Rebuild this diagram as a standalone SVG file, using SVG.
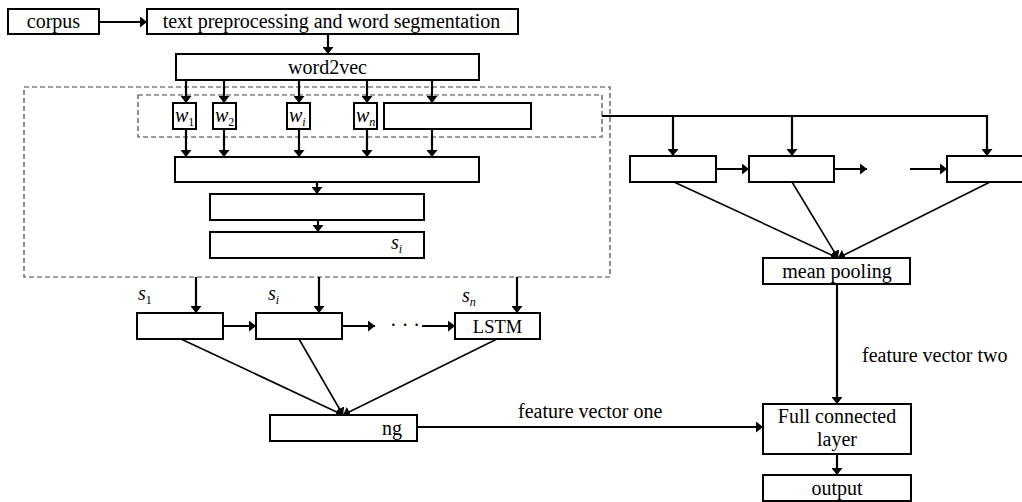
<svg xmlns="http://www.w3.org/2000/svg" width="1022" height="502" viewBox="0 0 1022 502">
<style>
.box{fill:#fff;stroke:#000;stroke-width:2}
.dash{fill:none;stroke:#444;stroke-width:1.2;stroke-dasharray:5 3}
.ln{fill:none;stroke:#000;stroke-width:2.2}
.dg{fill:none;stroke:#000;stroke-width:1.6}
text{font-family:"Liberation Serif","Times New Roman",serif;font-size:20px;fill:#000}
.c{text-anchor:middle}
.it{font-style:italic}
.sub{font-size:12px}
</style>
<defs>
<marker id="ah" viewBox="0 0 7 11" refX="7" refY="5.5" markerWidth="7" markerHeight="11" markerUnits="userSpaceOnUse" orient="auto">
<path d="M0,0 L7,5.5 L0,11 z" fill="#000"/>
</marker>
</defs>
<rect x="0" y="0" width="1022" height="502" fill="#fff"/>
<g id="groups">
<rect class="dash" x="24" y="87" width="586" height="190"/>
<rect class="dash" x="138" y="95" width="464" height="42"/>
</g>
<g id="connectors">
<line class="ln" x1="99" y1="22" x2="147" y2="22" marker-end="url(#ah)"/>
<line class="ln" x1="328" y1="34" x2="328" y2="54" marker-end="url(#ah)"/>
<line class="ln" x1="186" y1="80" x2="186" y2="103" marker-end="url(#ah)"/>
<line class="ln" x1="224" y1="80" x2="224" y2="103" marker-end="url(#ah)"/>
<line class="ln" x1="299" y1="80" x2="299" y2="103" marker-end="url(#ah)"/>
<line class="ln" x1="367" y1="80" x2="367" y2="103" marker-end="url(#ah)"/>
<line class="ln" x1="432" y1="80" x2="432" y2="103" marker-end="url(#ah)"/>
<line class="ln" x1="186" y1="129" x2="186" y2="157" marker-end="url(#ah)"/>
<line class="ln" x1="224" y1="129" x2="224" y2="157" marker-end="url(#ah)"/>
<line class="ln" x1="299" y1="129" x2="299" y2="157" marker-end="url(#ah)"/>
<line class="ln" x1="367" y1="129" x2="367" y2="157" marker-end="url(#ah)"/>
<line class="ln" x1="432" y1="129" x2="432" y2="157" marker-end="url(#ah)"/>
<line class="ln" x1="317" y1="182" x2="317" y2="194" marker-end="url(#ah)"/>
<line class="ln" x1="318" y1="220" x2="318" y2="232" marker-end="url(#ah)"/>
<line class="ln" x1="196" y1="277" x2="196" y2="313" marker-end="url(#ah)"/>
<line class="ln" x1="319" y1="277" x2="319" y2="313" marker-end="url(#ah)"/>
<line class="ln" x1="517" y1="277" x2="517" y2="313" marker-end="url(#ah)"/>
<line class="ln" x1="223" y1="326" x2="256" y2="326" marker-end="url(#ah)"/>
<line class="ln" x1="342" y1="326" x2="375" y2="326" marker-end="url(#ah)"/>
<line class="ln" x1="422" y1="326" x2="455" y2="326" marker-end="url(#ah)"/>
<line class="dg" x1="181" y1="339" x2="343" y2="415" marker-end="url(#ah)"/>
<line class="dg" x1="299" y1="339" x2="343" y2="415" marker-end="url(#ah)"/>
<line class="dg" x1="497" y1="339" x2="343" y2="415" marker-end="url(#ah)"/>
<line class="ln" x1="417" y1="427" x2="763" y2="427" marker-end="url(#ah)"/>
<polyline class="ln" points="602,116 988,116"/>
<line class="ln" x1="673" y1="116" x2="673" y2="156" marker-end="url(#ah)"/>
<line class="ln" x1="792" y1="116" x2="792" y2="156" marker-end="url(#ah)"/>
<line class="ln" x1="987" y1="115" x2="987" y2="156" marker-end="url(#ah)"/>
<line class="ln" x1="716" y1="169" x2="749" y2="169" marker-end="url(#ah)"/>
<line class="ln" x1="834" y1="169" x2="867" y2="169" marker-end="url(#ah)"/>
<line class="ln" x1="910" y1="169" x2="947" y2="169" marker-end="url(#ah)"/>
<line class="dg" x1="674" y1="182" x2="838" y2="258" marker-end="url(#ah)"/>
<line class="dg" x1="792" y1="182" x2="838" y2="258" marker-end="url(#ah)"/>
<line class="dg" x1="990" y1="182" x2="838" y2="258" marker-end="url(#ah)"/>
<line class="ln" x1="837" y1="284" x2="837" y2="404" marker-end="url(#ah)"/>
<line class="ln" x1="837" y1="454" x2="837" y2="475" marker-end="url(#ah)"/>
</g>
<g id="corpus"><rect class="box" x="8" y="9" width="91" height="25"/><text class="c" x="53.5" y="28">corpus</text></g>
<g id="preprocess"><rect class="box" x="147" y="9" width="371" height="25"/><text class="c" x="331.5" y="28">text preprocessing and word segmentation</text></g>
<g id="word2vec"><rect class="box" x="176" y="54" width="303" height="26"/><text class="c" x="327.5" y="73.5">word2vec</text></g>
<g id="w1"><rect class="box" x="173" y="103" width="23" height="26"/><text x="175" y="122"><tspan class="it">w</tspan><tspan class="sub" dy="4">1</tspan></text></g>
<g id="w2"><rect class="box" x="213" y="103" width="23" height="26"/><text x="215" y="122"><tspan class="it">w</tspan><tspan class="sub" dy="4">2</tspan></text></g>
<g id="wi"><rect class="box" x="287" y="103" width="23" height="26"/><text x="289" y="122"><tspan class="it">w</tspan><tspan class="sub it" dy="4">i</tspan></text></g>
<g id="wn"><rect class="box" x="354" y="103" width="23" height="26"/><text x="356" y="122"><tspan class="it">w</tspan><tspan class="sub it" dy="4">n</tspan></text></g>
<g id="wbig"><rect class="box" x="384" y="103" width="147" height="26"/></g>
<g id="boxA"><rect class="box" x="175" y="157" width="304" height="25"/></g>
<g id="boxB"><rect class="box" x="210" y="194" width="214" height="26"/></g>
<g id="boxC"><rect class="box" x="210" y="232" width="214" height="26"/><text x="391" y="249"><tspan class="it">s</tspan><tspan class="sub it" dy="4">i</tspan></text></g>
<g id="lstm1"><rect class="box" x="137" y="313" width="86" height="26"/></g>
<g id="lstm2"><rect class="box" x="256" y="313" width="86" height="26"/></g>
<g id="lstm3"><rect class="box" x="455" y="313" width="85" height="26"/><text class="c" x="497.5" y="332.5" style="font-size:18.5px">LSTM</text></g>
<text x="138" y="300"><tspan class="it">s</tspan><tspan class="sub" dy="4">1</tspan></text>
<text x="268" y="300"><tspan class="it">s</tspan><tspan class="sub it" dy="4">i</tspan></text>
<text x="462" y="302"><tspan class="it">s</tspan><tspan class="sub it" dy="4">n</tspan></text>
<text x="390" y="332">· · ·</text>
<g id="pooling"><rect class="box" x="270" y="415" width="147" height="26"/><text x="382" y="434.5">ng</text></g>
<text x="518" y="418">feature vector one</text>
<g id="r1"><rect class="box" x="630" y="156" width="86" height="26"/></g>
<g id="r2"><rect class="box" x="749" y="156" width="85" height="26"/></g>
<g id="r3"><rect class="box" x="947" y="156" width="86" height="26"/></g>
<g id="meanpool"><rect class="box" x="763" y="258" width="147" height="26"/><text class="c" x="837" y="277.5">mean pooling</text></g>
<text x="862" y="362">feature vector two</text>
<g id="fc"><rect class="box" x="763" y="404" width="148" height="50"/><text class="c" x="837" y="423">Full connected</text><text class="c" x="837" y="446">layer</text></g>
<g id="output"><rect class="box" x="763" y="475" width="148" height="26"/><text class="c" x="837" y="494.5">output</text></g>
</svg>
